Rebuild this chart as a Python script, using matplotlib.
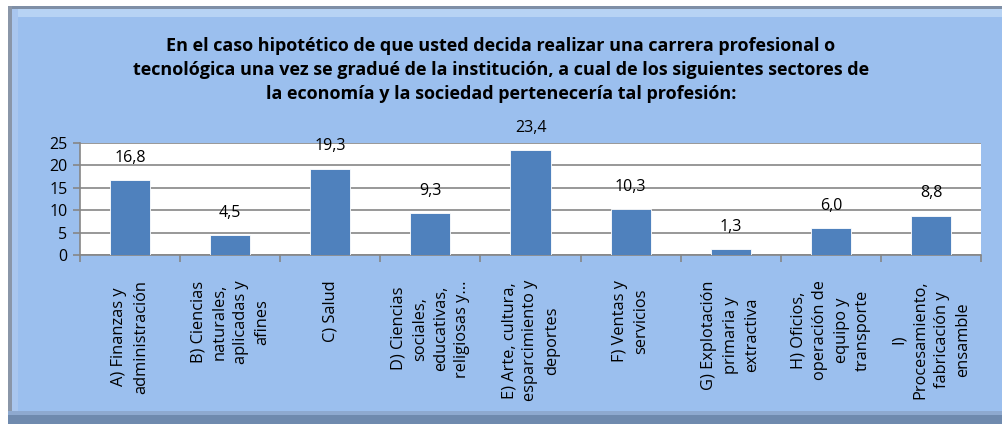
import numpy as np
import matplotlib.pyplot as plt
from matplotlib.patches import Rectangle

categorias = ['A) Finanzas y\nadministración',
              'B) Ciencias\nnaturales,\naplicadas y\nafines',
              'C) Salud',
              'D) Ciencias\nsociales,\neducativas,\nreligiosas y...',
              'E) Arte, cultura,\nesparcimiento y\ndeportes',
              'F) Ventas y\nservicios',
              'G) Explotación\nprimaria y\nextractiva',
              'H) Oficios,\noperación de\nequipo y\ntransporte',
              'I)\nProcesamiento,\nfabricación y\nensamble']
valores = [16.8, 4.5, 19.3, 9.3, 23.4, 10.3, 1.3, 6.0, 8.8]
etiquetas = ['16,8', '4,5', '19,3', '9,3', '23,4', '10,3', '1,3', '6,0', '8,8']

titulo = ('En el caso hipotético de que usted decida realizar una carrera profesional o\n'
          'tecnológica una vez se gradué de la institución, a cual de los siguientes sectores de\n'
          'la economía y la sociedad pertenecería tal profesión:')

plt.rcParams['font.family'] = ['Open Sans', 'DejaVu Sans']

W, H = 1002, 424
fig = plt.figure(figsize=(W / 100, H / 100), dpi=100)
fig.patch.set_facecolor('white')

# marco biselado
def px(x0, y0, w, h, c):
    fig.patches.append(Rectangle((x0 / W, 1 - (y0 + h) / H), w / W, h / H,
                                 transform=fig.transFigure, facecolor=c,
                                 edgecolor='none', zorder=-5))

px(8, 6, 994, 418, '#9BBFEE')
px(8, 6, 994, 3, '#7F8FA6')
px(8, 9, 994, 8, '#B7D3F4')
px(8, 6, 4, 418, '#8A96A8')
px(12, 9, 6, 415, '#A9C6EE')
px(8, 411, 994, 4, '#8EA9CF')
px(8, 415, 994, 9, '#6F8AAE')

fig.text(0.5, 1 - 70 / H, titulo, ha='center', va='center', fontsize=13.0,
         fontweight='bold', linespacing=1.4, color='black')

ax = fig.add_axes([80 / W, 1 - 255 / H, (981 - 80) / W, (255 - 143) / H])
ax.set_zorder(2)
ax.set_facecolor('white')

x = np.arange(len(valores))
ax.bar(x, valores, width=0.4, color='#4F81BD', edgecolor='white', linewidth=0.6, zorder=3)
for xi, v, t in zip(x, valores, etiquetas):
    ax.annotate(t, (xi, v), xytext=(0, 16), textcoords='offset points',
                ha='center', va='center', fontsize=11.5)

ax.set_xlim(-0.5, len(valores) - 0.5)
ax.set_ylim(0, 25)
ax.set_yticks(range(0, 26, 5))
ax.yaxis.grid(True, color='#868686', linewidth=1.2, zorder=0)
ax.set_axisbelow(True)

ax.set_xticks(x)
ax.set_xticklabels(categorias, rotation=90, ha='center', va='top',
                   multialignment='center', fontsize=11.8, linespacing=1.45)
ax.tick_params(axis='x', length=0, pad=18)
ax.set_xticks(np.arange(-0.5, len(valores)), minor=True)
ax.tick_params(axis='x', which='minor', length=5, color='#868686', width=1.2)
ax.tick_params(axis='y', length=5, color='#868686', width=1.2, labelsize=11.5, pad=4)

for s in ['top', 'right']:
    ax.spines[s].set_visible(False)
for s in ['left', 'bottom']:
    ax.spines[s].set_color('#868686')
    ax.spines[s].set_linewidth(1.2)

fig.savefig('out.png', dpi=100)
